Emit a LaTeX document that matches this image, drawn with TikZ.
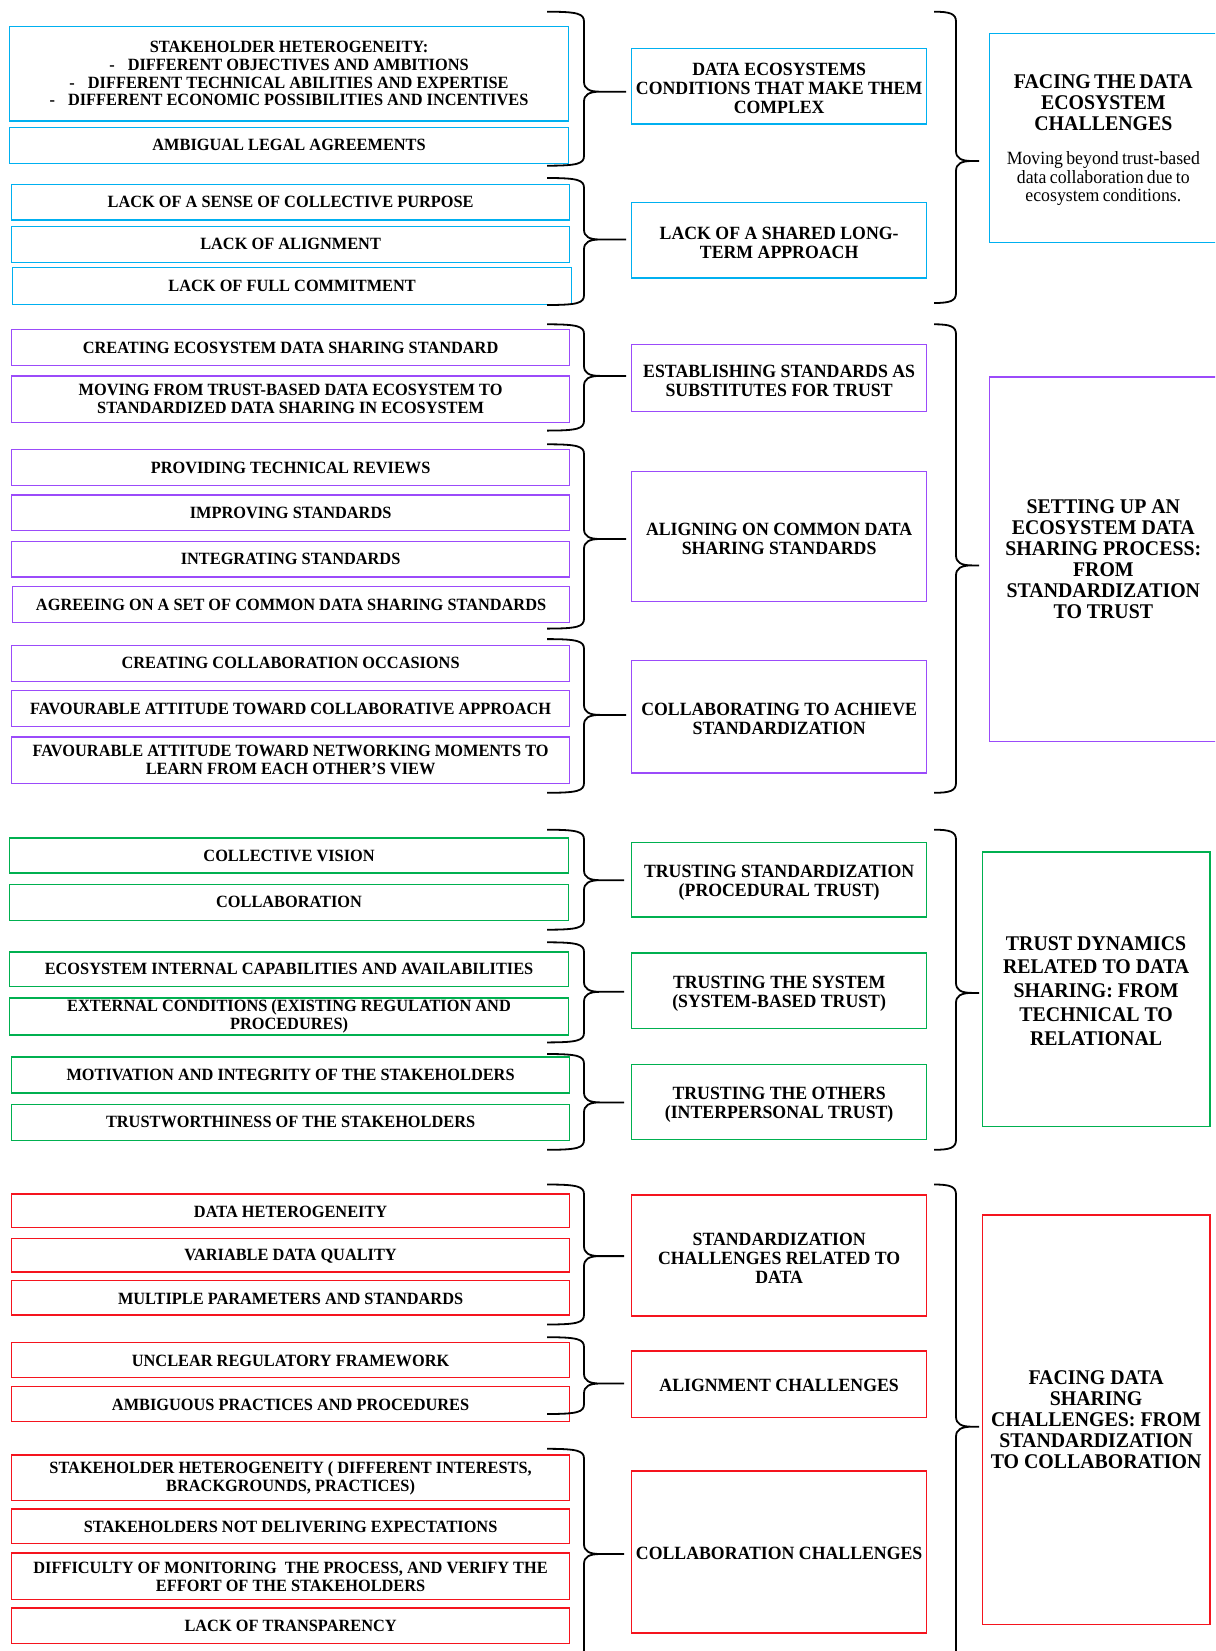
\documentclass[tikz,border=0pt]{standalone}
\usepackage{fontspec}
\setmainfont{Liberation Serif}[FakeStretch=0.95]
\definecolor{cyanb}{RGB}{0,176,240}
\definecolor{purp}{RGB}{155,75,250}
\definecolor{grn}{RGB}{0,176,80}
\definecolor{redb}{RGB}{245,20,30}

% box with its top-left and bottom-right corners given in px (y downwards);
% the text is set in its own node, nudged down by the given amount
\newcommand\tbox[9]{%
  \pgfmathsetmacro\bxw{#6-#4}\pgfmathsetmacro\bxh{#7-#5}%
  \node[box,#2,minimum width=\bxw pt,minimum height=\bxh pt] (#1) at (#4,#5) {};
  \node[txt,#3] (#1-t) at ([yshift=-#8pt]#1.center) {#9};}

% right curly brace: name, left end x, stem x, tip x, top y, tip y, bottom y
\newcommand\curly[7]{%
  \coordinate (#1-top) at (#2,#5);
  \coordinate (#1-tip) at (#4,#6);
  \coordinate (#1-bot) at (#2,#7);
  \draw[bracestroke] (#1-top) .. controls ({#3-6},#5) and (#3,{#5+2}) .. (#3,{#5+10})
     -- (#3,{#6-10}) .. controls (#3,{#6-3}) and ({#3+5},#6) .. ({#3+16},#6) -- (#1-tip)
     (#1-tip) -- ({#3+16},#6) .. controls ({#3+5},#6) and (#3,{#6+3}) .. (#3,{#6+10})
     -- (#3,{#7-10}) .. controls (#3,{#7-2}) and ({#3-6},#7) .. (#1-bot);}

\begin{document}
\begin{tikzpicture}[x=1pt,y=-1pt,
  box/.style={rectangle,inner sep=0pt,outer sep=0pt,line width=1.4pt,anchor=north west},
  txt/.style={inner sep=0pt,align=center},
  itemtext/.style={font=\fontsize{17.2}{17.6}\selectfont\bfseries},
  midtext/.style={font=\fontsize{18.7}{19}\selectfont\bfseries},
  headtext/.style={font=\fontsize{20.9}{21}\selectfont\bfseries},
  bracestroke/.style={line width=1.8pt,draw=black},
  cy/.style={draw=cyanb}, pu/.style={draw=purp}, gr/.style={draw=grn}, rd/.style={draw=redb}]
\useasboundingbox (0,0) rectangle (1215,1651);
\clip (0,0) rectangle (1215,1651);

% ---------------- data ecosystem challenges ----------------
\tbox{b1}{cy}{itemtext}{9.5}{26.3}{568.6}{121.1}{0}{STAKEHOLDER HETEROGENEITY:\\
 -\hspace{13pt}DIFFERENT OBJECTIVES AND AMBITIONS\\
 -\hspace{13pt}DIFFERENT TECHNICAL ABILITIES AND EXPERTISE\\
 -\hspace{13pt}DIFFERENT ECONOMIC POSSIBILITIES AND INCENTIVES}
\tbox{b2}{cy}{itemtext}{9.5}{127.4}{568.6}{163.2}{0}{AMBIGUAL LEGAL AGREEMENTS}
\tbox{b3}{cy}{itemtext}{11.6}{184.3}{569.6}{220.1}{0}{LACK OF A SENSE OF COLLECTIVE PURPOSE}
\tbox{b4}{cy}{itemtext}{11.6}{226.4}{569.6}{262.2}{0}{LACK OF ALIGNMENT}
\tbox{b5}{cy}{itemtext}{12.6}{267.4}{571.7}{304.3}{0}{LACK OF FULL COMMITMENT}
\tbox{m1}{cy}{midtext}{631.7}{48.4}{926.6}{124.2}{2.6}{DATA ECOSYSTEMS\\CONDITIONS THAT MAKE THEM\\COMPLEX}
\tbox{m2}{cy}{midtext}{631.7}{202.2}{926.6}{278}{2.6}{LACK OF A SHARED LONG-\\TERM APPROACH}
\tbox{h1}{cy}{text width=222pt}{989.7}{33.7}{1217}{242.2}{2.2}{%
 {\fontsize{20.9}{21}\selectfont\bfseries FACING THE DATA\\ECOSYSTEM\\CHALLENGES\par}\vspace{16pt}%
 {\fontsize{18.7}{18.4}\selectfont Moving beyond trust-based\\data collaboration due to\\ecosystem conditions.\par}\vspace{4pt}}
\curly{c1}{547}{584}{626}{11.7}{91.7}{165.7}
\curly{c2}{547}{584}{626}{178}{239.5}{305}
\curly{k1}{934}{956}{979}{11.7}{161}{303}

% ---------------- setting up the sharing process ----------------
\tbox{p1}{pu}{itemtext}{11.6}{329.6}{569.6}{365.4}{0}{CREATING ECOSYSTEM DATA SHARING STANDARD}
\tbox{p2}{pu}{itemtext}{11.6}{375.9}{569.6}{422.2}{0}{MOVING FROM TRUST-BASED DATA ECOSYSTEM TO\\STANDARDIZED DATA SHARING IN ECOSYSTEM}
\tbox{p3}{pu}{itemtext}{11.6}{449.6}{569.6}{485.4}{0}{PROVIDING TECHNICAL REVIEWS}
\tbox{p4}{pu}{itemtext}{11.6}{494.9}{569.6}{530.7}{0}{IMPROVING STANDARDS}
\tbox{p5}{pu}{itemtext}{11.6}{541.2}{569.6}{577}{0}{INTEGRATING STANDARDS}
\tbox{p6}{pu}{itemtext}{12.6}{586.5}{569.6}{622.3}{0}{AGREEING ON A SET OF COMMON DATA SHARING STANDARDS}
\tbox{p7}{pu}{itemtext}{11.6}{645.4}{569.6}{681.2}{0}{CREATING COLLABORATION OCCASIONS}
\tbox{p8}{pu}{itemtext}{11.6}{690.7}{569.6}{726.5}{0}{FAVOURABLE ATTITUDE TOWARD COLLABORATIVE APPROACH}
\tbox{p9}{pu}{itemtext}{11.6}{737}{569.6}{783.4}{0}{FAVOURABLE ATTITUDE TOWARD NETWORKING MOMENTS TO\\LEARN FROM EACH OTHER’S VIEW}
\tbox{pm1}{pu}{midtext}{631.7}{344.3}{926.6}{411.7}{2.6}{ESTABLISHING STANDARDS AS\\SUBSTITUTES FOR TRUST}
\tbox{pm2}{pu}{midtext}{631.7}{471.7}{926.6}{601.2}{2.6}{ALIGNING ON COMMON DATA\\SHARING STANDARDS}
\tbox{pm3}{pu}{midtext}{631.7}{660.2}{926.6}{772.8}{2.6}{COLLABORATING TO ACHIEVE\\STANDARDIZATION}
\tbox{h2}{pu}{headtext}{989.7}{376.9}{1217}{741.2}{0}{SETTING UP AN\\ECOSYSTEM DATA\\SHARING PROCESS:\\FROM\\STANDARDIZATION\\TO TRUST}
\curly{c3}{547}{584}{626}{324.3}{375.9}{430.6}
\curly{c4}{547}{584}{626}{444.3}{539}{628.6}
\curly{c5}{547}{584}{626}{639.1}{714.9}{792.8}
\curly{k2}{934}{956}{979}{324.3}{565.4}{792.8}

% ---------------- trust dynamics ----------------
\tbox{g1}{gr}{itemtext}{9.5}{838.1}{568.6}{872.9}{0}{COLLECTIVE VISION}
\tbox{g2}{gr}{itemtext}{9.5}{884.4}{568.6}{920.2}{0}{COLLABORATION}
\tbox{g3}{gr}{itemtext}{9.5}{951.8}{568.6}{986.6}{0}{ECOSYSTEM INTERNAL CAPABILITIES AND AVAILABILITIES}
\tbox{g4}{gr}{itemtext}{9.5}{998.1}{568.6}{1035}{0}{EXTERNAL CONDITIONS (EXISTING REGULATION AND\\PROCEDURES)}
\tbox{g5}{gr}{itemtext}{11.6}{1057.1}{569.6}{1092.9}{0}{MOTIVATION AND INTEGRITY OF THE STAKEHOLDERS}
\tbox{g6}{gr}{itemtext}{11.6}{1104.5}{569.6}{1140.3}{0}{TRUSTWORTHINESS OF THE STAKEHOLDERS}
\tbox{gm1}{gr}{midtext}{631.7}{842.3}{926.6}{917.1}{3.2}{TRUSTING STANDARDIZATION\\(PROCEDURAL TRUST)}
\tbox{gm2}{gr}{midtext}{631.7}{952.9}{926.6}{1028.7}{2.6}{TRUSTING THE SYSTEM\\(SYSTEM-BASED TRUST)}
\tbox{gm3}{gr}{midtext}{631.7}{1064.5}{926.6}{1139.2}{2.6}{TRUSTING THE OTHERS\\(INTERPERSONAL TRUST)}
\tbox{h3}{gr}{font=\fontsize{20.9}{23.7}\selectfont\bfseries}{982.4}{851.8}{1209.8}{1126.6}{1.6}{TRUST DYNAMICS\\RELATED TO DATA\\SHARING: FROM\\TECHNICAL TO\\RELATIONAL}
\curly{c6}{547}{584}{624}{829.7}{880.2}{929.7}
\curly{c7}{547}{584}{624}{942.3}{991.8}{1042.4}
\curly{c8}{547}{584}{624}{1054}{1102.4}{1149.8}
\curly{k3}{934}{956}{979}{829.7}{992.9}{1149.8}

% ---------------- data sharing challenges ----------------
\tbox{r1}{rd}{itemtext}{11.6}{1194}{569.6}{1227.7}{1}{DATA HETEROGENEITY}
\tbox{r2}{rd}{itemtext}{11.6}{1238.2}{569.6}{1271.9}{1}{VARIABLE DATA QUALITY}
\tbox{r3}{rd}{itemtext}{11.6}{1280.3}{569.6}{1315.1}{1}{MULTIPLE PARAMETERS AND STANDARDS}
\tbox{r4}{rd}{itemtext}{11.6}{1342.4}{569.6}{1377.2}{1}{UNCLEAR REGULATORY FRAMEWORK}
\tbox{r5}{rd}{itemtext}{11.6}{1386.7}{569.6}{1421.4}{1}{AMBIGUOUS PRACTICES AND PROCEDURES}
\tbox{r6}{rd}{itemtext}{11.6}{1455.1}{569.6}{1500.4}{0.5}{STAKEHOLDER HETEROGENEITY ( DIFFERENT INTERESTS,\\BRACKGROUNDS, PRACTICES)}
\tbox{r7}{rd}{itemtext}{11.6}{1508.8}{569.6}{1543.5}{1}{STAKEHOLDERS NOT DELIVERING EXPECTATIONS}
\tbox{r8}{rd}{itemtext}{11.6}{1553}{569.6}{1599.4}{0.5}{DIFFICULTY OF MONITORING\ \ THE PROCESS, AND VERIFY THE\\EFFORT OF THE STAKEHOLDERS}
\tbox{r9}{rd}{itemtext}{11.6}{1607.8}{569.6}{1643.6}{0.5}{LACK OF TRANSPARENCY}
\tbox{rm1}{rd}{midtext}{631.7}{1195}{926.6}{1316.1}{2.6}{STANDARDIZATION\\CHALLENGES RELATED TO\\DATA}
\tbox{rm2}{rd}{midtext}{631.7}{1350.9}{926.6}{1417.2}{1.5}{ALIGNMENT CHALLENGES}
\tbox{rm3}{rd}{midtext}{631.7}{1470.9}{926.6}{1633}{1.5}{COLLABORATION CHALLENGES}
\tbox{h4}{rd}{headtext}{982.4}{1215}{1209.8}{1624.6}{0}{FACING DATA\\SHARING\\CHALLENGES: FROM\\STANDARDIZATION\\TO COLLABORATION}
\curly{c9}{547}{584}{624}{1184.5}{1256.1}{1324.5}
\curly{c10}{547}{584}{624}{1337.2}{1383.5}{1414}
\curly{c11}{547}{584}{624}{1448.8}{1554}{1660}
\curly{k4}{934}{956}{979}{1184.5}{1426.7}{1669}
\end{tikzpicture}
\end{document}
